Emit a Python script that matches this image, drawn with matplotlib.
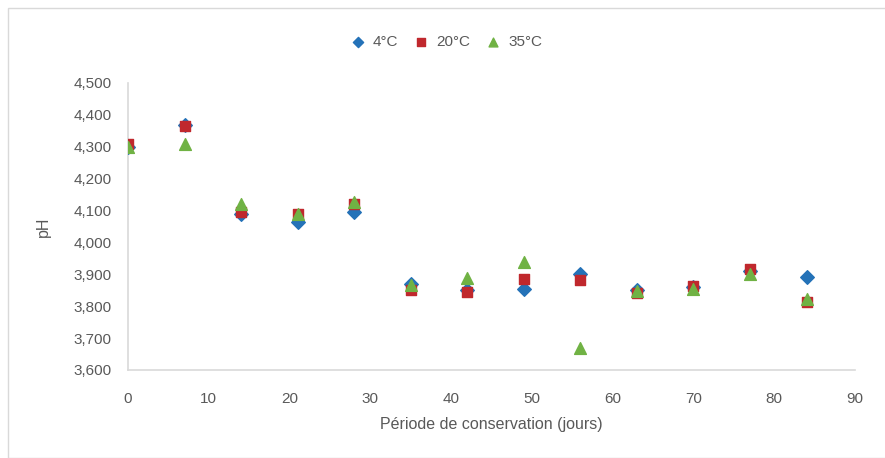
import matplotlib
matplotlib.use("Agg")
import matplotlib.pyplot as plt
from matplotlib.patches import Rectangle
from matplotlib.ticker import FuncFormatter

# ----------------------------
# données
# ----------------------------
jours = [0, 7, 14, 21, 28, 35, 42, 49, 56, 63, 70, 77, 84]

ph_4 = [4.300, 4.369, 4.090, 4.065, 4.095, 3.870, 3.850, 3.855, 3.900, 3.850, 3.860, 3.910, 3.892]
ph_20 = [4.310, 4.364, 4.094, 4.088, 4.122, 3.852, 3.845, 3.886, 3.883, 3.842, 3.864, 3.918, 3.814]
ph_35 = [4.300, 4.308, 4.120, 4.090, 4.128, 3.867, 3.889, 3.940, 3.669, 3.848, 3.855, 3.900, 3.823]

y_ticks = [3.6, 3.7, 3.8, 3.9, 4.0, 4.1, 4.2, 4.3, 4.4, 4.5]
x_ticks = [0, 10, 20, 30, 40, 50, 60, 70, 80, 90]

txt = "#595959"
plt.rcParams['font.family'] = ['Liberation Sans', 'DejaVu Sans']

fig = plt.figure(figsize=(8.85, 4.58), dpi=100)
ax = fig.add_axes([128/885, 1-370/458, (855-128)/885, (370-83)/458])

# cadre du graphique
fig.patches.append(Rectangle((8/885, 0.0), 1.0, 1-8/458, transform=fig.transFigure,
                             fill=False, edgecolor="#d9d9d9", lw=1))

ax.scatter(jours, ph_4, marker="D", s=48, color="#2472b8", label="4°C", zorder=3)
ax.scatter(jours, ph_20, marker="s", s=60, color="#c0282d", label="20°C", zorder=4)
ax.scatter(jours, ph_35, marker="^", s=72, color="#70b244", label="35°C", zorder=5)

ax.set_xlim(0, 90)
ax.set_ylim(3.6, 4.5)
ax.set_xticks(x_ticks)
ax.set_yticks(y_ticks)
ax.yaxis.set_major_formatter(FuncFormatter(lambda v, p: f"{v:.3f}".replace(".", ",")))
ax.tick_params(length=0, labelsize=11, colors=txt)
ax.tick_params(axis="x", pad=16)
ax.tick_params(axis="y", pad=12)

for s in ["top", "right"]:
    ax.spines[s].set_visible(False)
for s in ["left", "bottom"]:
    ax.spines[s].set_color("#d9d9d9")
    ax.spines[s].set_linewidth(1.2)

ax.set_xlabel("Période de conservation (jours)", fontsize=11.5, color=txt, labelpad=8)
ax.set_ylabel("pH", fontsize=11.5, color=txt, labelpad=16)

fig.legend(loc="center", bbox_to_anchor=(0.5, 1-42/458), ncol=3, frameon=False,
           fontsize=11, labelcolor=txt, handletextpad=0.0, columnspacing=0.5,
           markerscale=0.75)

fig.savefig("out.png", dpi=100)
